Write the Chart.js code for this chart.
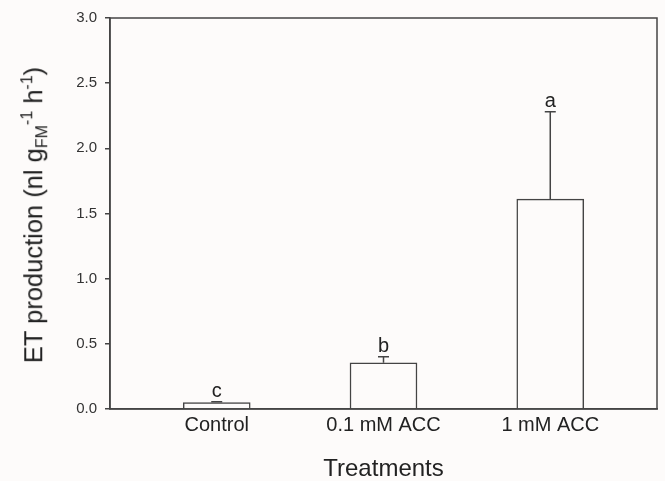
<!DOCTYPE html>
<html>
<head>
<meta charset="utf-8">
<script src="https://cdn.jsdelivr.net/npm/chart.js@4.4.1/dist/chart.umd.min.js"></script>
<style>
    html, body {
        margin: 0;
        padding: 0;
        background: #fdfbfa;
    }
    #wrap {
        position: relative;
        width: 665px;
        height: 481px;
    }
    #y-title {
        position: absolute;
        left: 33.7px;
        top: 214.5px;
        transform: translate(-50%, -50%) rotate(-90deg);
        font-family: "Liberation Sans", Arial, sans-serif;
        font-size: 25.5px;
        line-height: 1;
        white-space: nowrap;
        color: #222;
    }
    #y-title sub, #y-title sup {
        font-size: 16px;
        line-height: 0;
        position: relative;
        vertical-align: baseline;
    }
    #y-title sub { top: 5px; }
    #y-title sup { top: -10px; }
</style>
</head>
<body>
<div id="wrap">
    <canvas id="et-chart" width="665" height="481"></canvas>
    <div id="y-title">ET production (nl g<sub>FM</sub><sup>-1</sup> h<sup>-1</sup>)</div>
</div>
<script>
const treatments = ["Control", "0.1 mM ACC", "1 mM ACC"];
const etMeans = [0.05, 0.355, 1.61];
const etErrors = [0.005, 0.045, 0.67];
const sigLetters = ["c", "b", "a"];
const yTicks = [0, 0.5, 1.0, 1.5, 2.0, 2.5, 3.0];

const lineColor = "#444";
const textColor = "#222";
const fontFamily = "'Liberation Sans', Arial, sans-serif";

// error bars (upper only) and significance letters
const errorBarPlugin = {
    id: "errorBars",
    afterDatasetsDraw(chart) {
        const { ctx, scales } = chart;
        ctx.save();
        ctx.strokeStyle = lineColor;
        ctx.lineWidth = 1.5;
        ctx.fillStyle = textColor;
        ctx.font = `20px ${fontFamily}`;
        ctx.textAlign = "center";
        ctx.textBaseline = "alphabetic";

        etMeans.forEach((mean, i) => {
            const x = scales.x.getPixelForValue(i);
            const yBar = scales.y.getPixelForValue(mean);
            const yTop = scales.y.getPixelForValue(mean + etErrors[i]);

            ctx.beginPath();
            ctx.moveTo(x, yBar);
            ctx.lineTo(x, yTop);
            ctx.moveTo(x - 5.5, yTop);
            ctx.lineTo(x + 5.5, yTop);
            ctx.stroke();

            ctx.fillText(sigLetters[i], x, yTop - 5);
        });
        ctx.restore();
    },
};

// box round the plot area
const framePlugin = {
    id: "frame",
    afterDraw(chart) {
        const { ctx, chartArea } = chart;
        ctx.save();
        ctx.strokeStyle = lineColor;
        ctx.lineWidth = 1.5;
        ctx.strokeRect(chartArea.left, chartArea.top, chartArea.right - chartArea.left, chartArea.bottom - chartArea.top);
        ctx.restore();
    },
};

const canvas = document.getElementById("et-chart");

new Chart(canvas, {
    type: "bar",
    data: {
        datasets: [
            {
                data: etMeans.map((v, i) => ({ x: i, y: v })),
                backgroundColor: "#fdfbfa",
                borderColor: lineColor,
                borderWidth: 1.5,
                barThickness: 67,
            },
        ],
    },
    options: {
        responsive: false,
        animation: false,
        devicePixelRatio: 1,
        layout: {
            padding: { top: 18, right: 8, left: 0, bottom: 0 },
        },
        plugins: {
            legend: { display: false },
            tooltip: { enabled: false },
        },
        scales: {
            x: {
                type: "linear",
                offset: false,
                min: -0.64,
                max: 2.64,
                afterBuildTicks(scale) {
                    scale.ticks = treatments.map((_, i) => ({ value: i }));
                },
                afterFit(scale) {
                    scale.height = 72;
                },
                ticks: {
                    color: textColor,
                    font: { family: fontFamily, size: 20 },
                    padding: 4,
                    maxRotation: 0,
                    autoSkip: false,
                    callback: (value) => treatments[value],
                },
                grid: { display: false, drawTicks: false },
                border: { color: lineColor, width: 1.5 },
                title: {
                    display: true,
                    text: "Treatments",
                    color: textColor,
                    font: { family: fontFamily, size: 24, lineHeight: 1 },
                    padding: { top: 0, bottom: 0 },
                },
            },
            y: {
                min: 0,
                max: 3,
                afterBuildTicks(scale) {
                    scale.ticks = yTicks.map((v) => ({ value: v }));
                },
                afterFit(scale) {
                    scale.width = 110;
                },
                ticks: {
                    color: "#333",
                    font: { family: fontFamily, size: 15 },
                    padding: 8,
                    callback: (value) => value.toFixed(1),
                },
                grid: {
                    drawOnChartArea: false,
                    drawTicks: true,
                    tickLength: 5,
                    color: lineColor,
                    lineWidth: 1.5,
                },
                border: { color: lineColor, width: 1.5 },
            },
        },
    },
    plugins: [errorBarPlugin, framePlugin],
});
</script>
</body>
</html>
